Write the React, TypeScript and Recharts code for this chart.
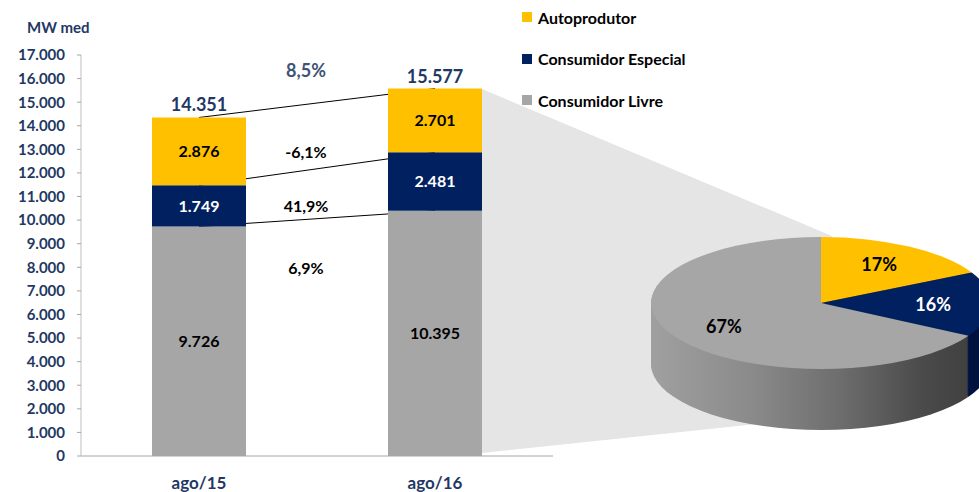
import React from 'react';
import {
  ComposedChart,
  Bar,
  XAxis,
  YAxis,
  LabelList,
  ReferenceLine,
  PieChart,
  Pie,
  Cell,
} from 'recharts';

// Mercado livre – consumo (MW med), ago/15 x ago/16
const categories = ['ago/15', 'ago/16'];
const livre = [9726, 10395];
const especial = [1749, 2481];
const autoprodutor = [2876, 2701];
const yTicks = [0, 1000, 2000, 3000, 4000, 5000, 6000, 7000, 8000, 9000, 10000, 11000, 12000, 13000, 14000, 15000, 16000, 17000];

const SERIES = [
  { key: 'livre', name: 'Consumidor Livre', color: '#A6A6A6', text: '#000000', side: 'url(#sideGray)', changeAt: 0.18 },
  { key: 'especial', name: 'Consumidor Especial', color: '#002060', text: '#FFFFFF', side: '#00133F', changeAt: 0.5 },
  { key: 'auto', name: 'Autoprodutor', color: '#FFC000', text: '#000000', side: '#B08600', changeAt: 0.5 },
];

const NAVY = '#1F3864';
const W = 979;
const H = 492;
const MARGIN = { top: 55, right: 426, bottom: 0, left: 0 };
const Y_AXIS_W = 81;
const BAR_SIZE = 94;
const BAND = (W - MARGIN.right - Y_AXIS_W) / categories.length;

// pie projection
const PIE_R = 170;
const PIE_K = 66 / PIE_R; // vertical squash of the tilted pie
const PIE_DEPTH = 61; // screen px
const PIE_CX = 821;
const PIE_CY = 303;

const fmt = (n: number) => String(n).replace(/\B(?=(\d{3})+(?!\d))/g, '.');
const pct = (a: number, b: number) => ((b / a - 1) * 100).toFixed(1).replace('.', ',') + '%';

const data = categories.map((cat, i) => ({
  cat,
  livre: livre[i],
  especial: especial[i],
  auto: autoprodutor[i],
  total: livre[i] + especial[i] + autoprodutor[i],
}));

const seriesValues: Record<string, number[]> = { livre, especial, auto: autoprodutor };

// cumulative tops used by the connector lines
const levels = [
  data.map((d) => d.livre),
  data.map((d) => d.livre + d.especial),
  data.map((d) => d.total),
];

const last = data.length - 1;
const pieData = SERIES.slice()
  .reverse()
  .map((s) => ({ name: s.name, value: seriesValues[s.key][last], color: s.color, text: s.text, side: s.side }));

function box(props: any) {
  const vb = props.viewBox && props.viewBox.width != null ? props.viewBox : props;
  return { x: Number(vb.x), y: Number(vb.y), width: Number(vb.width), height: Number(vb.height) };
}

const changeLabel = (s: (typeof SERIES)[number]) => (props: any) => {
  if (props.index !== 0) return null;
  const { x, y, width, height } = box(props);
  const mid = x + width + (BAND - width) / 2 - 11;
  const vals = seriesValues[s.key];
  return (
    <text x={mid} y={y + height * s.changeAt} textAnchor="middle" dominantBaseline="central" fontSize={16} fontWeight={700} fill="#000">
      {pct(vals[0], vals[1])}
    </text>
  );
};

const totalLabel = (props: any) => {
  const { x, y, width } = box(props);
  const i = props.index;
  const mid = x + width + (BAND - width) / 2 - 11;
  return (
    <g>
      <text x={x + width / 2} y={y - 13} textAnchor="middle" dominantBaseline="central" fontSize={18} fontWeight={700} fill={NAVY}>
        {fmt(data[i].total)}
      </text>
      {i === 0 && (
        <text x={mid} y={y - 47} textAnchor="middle" dominantBaseline="central" fontSize={18} fontWeight={700} fill="#3E5475">
          {pct(data[0].total, data[1].total)}
        </text>
      )}
    </g>
  );
};

const pieLabel = (p: any) => {
  const RAD = Math.PI / 180;
  const r = p.outerRadius * 0.66;
  const x = p.cx + r * Math.cos(-p.midAngle * RAD);
  const y = p.cy + r * 1.06 * Math.sin(-p.midAngle * RAD);
  return (
    <text
      transform={`translate(${x},${y}) scale(1,${1 / PIE_K})`}
      textAnchor="middle"
      dominantBaseline="central"
      fontSize={18}
      fontWeight={700}
      fill={pieData[p.index].text}
    >
      {Math.round(p.percent * 100)}%
    </text>
  );
};

const sideLayers = Array.from({ length: PIE_DEPTH }, (_, i) => PIE_DEPTH - i);

export default function App() {
  return (
    <div
      style={{
        position: 'absolute',
        left: 0,
        top: 0,
        width: W,
        height: H,
        overflow: 'hidden',
        background: '#fff',
        fontFamily: 'Lato, sans-serif',
      }}
    >
      {/* zoom wedge from the ago/16 bar to the pie */}
      <svg width={W} height={H} style={{ position: 'absolute', left: 0, top: 0 }}>
        <polygon points="482,89 832,236 832,416 482,453" fill="#E5E5E5" />
      </svg>

      <div style={{ position: 'absolute', left: 0, top: 0 }}>
        <ComposedChart width={W} height={H} data={data} margin={MARGIN} barCategoryGap={0}>
          <XAxis
            dataKey="cat"
            tickLine={false}
            tickSize={0}
            tickMargin={21}
            height={36}
            axisLine={{ stroke: '#A6A6A6' }}
            tick={{ fill: NAVY, fontSize: 17, fontWeight: 700 }}
          />
          <YAxis
            width={Y_AXIS_W}
            domain={[0, 17000]}
            ticks={yTicks}
            interval={0}
            tickSize={4}
            tickMargin={12}
            tickFormatter={fmt}
            axisLine={{ stroke: '#BFBFBF' }}
            tickLine={{ stroke: '#A6A6A6' }}
            tick={{ fill: NAVY, fontSize: 15, fontWeight: 700 }}
          />
          {levels.map((lv, i) => (
            <ReferenceLine
              key={i}
              zIndex={100}
              ifOverflow="visible"
              stroke="#000"
              strokeWidth={1}
              segment={[
                { x: categories[0], y: lv[0] },
                { x: categories[1], y: lv[1] },
              ]}
            />
          ))}
          {SERIES.map((s) => (
            <Bar key={s.key} dataKey={s.key} name={s.name} stackId="a" fill={s.color} barSize={BAR_SIZE} isAnimationActive={false}>
              <LabelList dataKey={s.key} position="center" formatter={(v: any) => fmt(Number(v))} fill={s.text} fontSize={16} fontWeight={700} />
              <LabelList dataKey={s.key} content={changeLabel(s)} />
              {s.key === 'auto' && <LabelList dataKey="total" content={totalLabel} />}
            </Bar>
          ))}
        </ComposedChart>
      </div>

      {/* tilted pie of ago/16 */}
      <div
        style={{
          position: 'absolute',
          left: PIE_CX - 200,
          top: PIE_CY - 200,
          width: 400,
          height: 560,
          transform: `scaleY(${PIE_K})`,
          transformOrigin: '200px 200px',
        }}
      >
        <PieChart width={400} height={560} margin={{ top: 0, right: 0, bottom: 0, left: 0 }}>
          <defs>
            <linearGradient id="sideGray" gradientUnits="userSpaceOnUse" x1={200 - PIE_R} y1={0} x2={200 + PIE_R} y2={0}>
              <stop offset="0" stopColor="#A0A0A0" />
              <stop offset="0.3" stopColor="#8A8A8A" />
              <stop offset="0.55" stopColor="#6E6E6E" />
              <stop offset="0.8" stopColor="#4A4A4A" />
              <stop offset="1" stopColor="#3C3C3C" />
            </linearGradient>
          </defs>
          {sideLayers.map((d) => (
            <Pie
              key={'side' + d}
              data={pieData}
              dataKey="value"
              nameKey="name"
              cx={200}
              cy={200 + d / PIE_K}
              outerRadius={PIE_R}
              startAngle={90}
              endAngle={-270}
              stroke="none"
              label={false}
              labelLine={false}
              isAnimationActive={false}
            >
              {pieData.map((e) => (
                <Cell key={e.name} fill={e.side} />
              ))}
            </Pie>
          ))}
          <Pie
            data={pieData}
            dataKey="value"
            nameKey="name"
            cx={200}
            cy={200}
            outerRadius={PIE_R}
            startAngle={90}
            endAngle={-270}
            stroke="none"
            label={pieLabel}
            labelLine={false}
            isAnimationActive={false}
          >
            {pieData.map((e) => (
              <Cell key={e.name} fill={e.color} />
            ))}
          </Pie>
        </PieChart>
      </div>

      <div style={{ position: 'absolute', left: 27, top: 18, color: NAVY, fontSize: 15, fontWeight: 700 }}>MW med</div>

      <div style={{ position: 'absolute', left: 522, top: 5 }}>
        {SERIES.slice()
          .reverse()
          .map((s) => (
            <div key={s.key} style={{ display: 'flex', alignItems: 'center', height: 24, marginBottom: 17.5 }}>
              <span style={{ width: 10, height: 10, background: s.color, marginRight: 6, display: 'inline-block' }} />
              <span style={{ fontSize: 16, fontWeight: 700, color: '#000' }}>{s.name}</span>
            </div>
          ))}
      </div>
    </div>
  );
}
